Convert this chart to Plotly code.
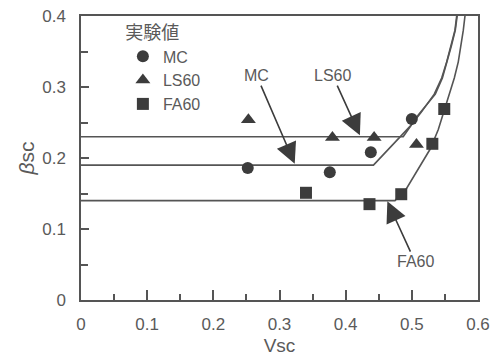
import plotly.graph_objects as go

# ---- data ----
mc_x = [0.252, 0.376, 0.438, 0.500]
mc_y = [0.186, 0.180, 0.208, 0.255]
ls_x = [0.253, 0.380, 0.443, 0.507]
ls_y = [0.254, 0.229, 0.229, 0.219]
fa_x = [0.340, 0.436, 0.484, 0.531, 0.549]
fa_y = [0.151, 0.135, 0.149, 0.220, 0.269]

mc_curve_x = [0.0, 0.442, 0.4972, 0.5138, 0.5339, 0.5451, 0.5527, 0.5592, 0.5652, 0.5678]
mc_curve_y = [0.19, 0.19, 0.2445, 0.2639, 0.2899, 0.3127, 0.3354, 0.358, 0.380, 0.40]
ls_curve_x = [0.0, 0.487, 0.510, 0.5355, 0.5462, 0.5535, 0.5598, 0.5657, 0.5685]
ls_curve_y = [0.23, 0.23, 0.261, 0.2899, 0.3127, 0.3354, 0.358, 0.380, 0.40]
fa_curve_x = [0.0, 0.4745, 0.492, 0.528, 0.540, 0.549, 0.5566, 0.5642, 0.5702, 0.5743, 0.5778, 0.5803]
fa_curve_y = [0.14, 0.14, 0.157, 0.213, 0.240, 0.266, 0.2899, 0.3127, 0.3354, 0.358, 0.380, 0.40]

arrow_labels = ["MC", "LS60", "FA60"]
arrow_tail_x = [0.2655, 0.3804, 0.5048]
arrow_tail_y = [0.316, 0.316, 0.054]
arrow_tip_x = [0.323, 0.4215, 0.463]
arrow_tip_y = [0.192, 0.232, 0.139]

x_ticks = [0, 0.1, 0.2, 0.3, 0.4, 0.5, 0.6]
y_ticks = [0, 0.1, 0.2, 0.3, 0.4]

INK = "#3c3c3c"
LINE = "#555555"
TXT = "#5a5a5a"
FONT = "Liberation Sans, Arial, sans-serif"

fig = go.Figure()

for cx, cy in [(mc_curve_x, mc_curve_y), (ls_curve_x, ls_curve_y), (fa_curve_x, fa_curve_y)]:
    fig.add_trace(go.Scatter(x=cx, y=cy, mode="lines", showlegend=False,
                             line=dict(color=LINE, width=1.6), hoverinfo="skip"))

fig.add_trace(go.Scatter(x=mc_x, y=mc_y, mode="markers", name="MC",
                         marker=dict(symbol="circle", size=12, color=INK)))
fig.add_trace(go.Scatter(x=ls_x, y=ls_y, mode="markers", name="LS60",
                         marker=dict(symbol="triangle-up", size=13, color=INK)))
fig.add_trace(go.Scatter(x=fa_x, y=fa_y, mode="markers", name="FA60",
                         marker=dict(symbol="square", size=12, color=INK)))

for lab, tx, ty, hx, hy in zip(arrow_labels, arrow_tail_x, arrow_tail_y, arrow_tip_x, arrow_tip_y):
    fig.add_annotation(x=hx, y=hy, xref="x", yref="y", ax=tx, ay=ty, axref="x", ayref="y",
                       text=lab, showarrow=True, arrowhead=2, arrowsize=2.6, arrowwidth=1.6,
                       arrowcolor=INK, standoff=0,
                       font=dict(family=FONT, size=16, color=TXT))

axis_common = dict(showline=True, linecolor=LINE, linewidth=1.5, mirror=True,
                   showgrid=False, zeroline=False, ticks="inside", tickcolor=LINE,
                   tickwidth=1.5, tickfont=dict(family=FONT, size=17, color=TXT))

fig.update_xaxes(range=[0, 0.6], tickvals=x_ticks, ticklen=10,
                 minor=dict(ticks="inside", dtick=0.05, ticklen=6, tickcolor=LINE, tickwidth=1.5),
                 ticklabelstandoff=8,
                 title=dict(text="Vsc", font=dict(family=FONT, size=19, color=TXT), standoff=6),
                 **axis_common)
fig.update_yaxes(range=[0, 0.4], tickvals=y_ticks, ticklen=8,
                 minor=dict(ticks="inside", dtick=0.05, ticklen=7, tickcolor=LINE, tickwidth=1.5),
                 ticklabelstandoff=10,
                 title=dict(text="<i>β</i>sc", font=dict(family=FONT, size=21, color=TXT), standoff=2),
                 **axis_common)

fig.update_layout(
    width=498, height=358,
    margin=dict(l=81, r=20, t=16, b=58, autoexpand=False),
    paper_bgcolor="white", plot_bgcolor="white",
    showlegend=True,
    legend=dict(x=0.1055, y=1.0, xanchor="left", yanchor="top",
                bgcolor="rgba(0,0,0,0)", tracegroupgap=0,
                font=dict(family=FONT, size=16, color=TXT),
                title=dict(text="実験値" + "&nbsp;" * 8, side="top center",
                           font=dict(family="Noto Sans CJK JP", size=18, color=TXT))),
)

fig.write_html("out.html")
